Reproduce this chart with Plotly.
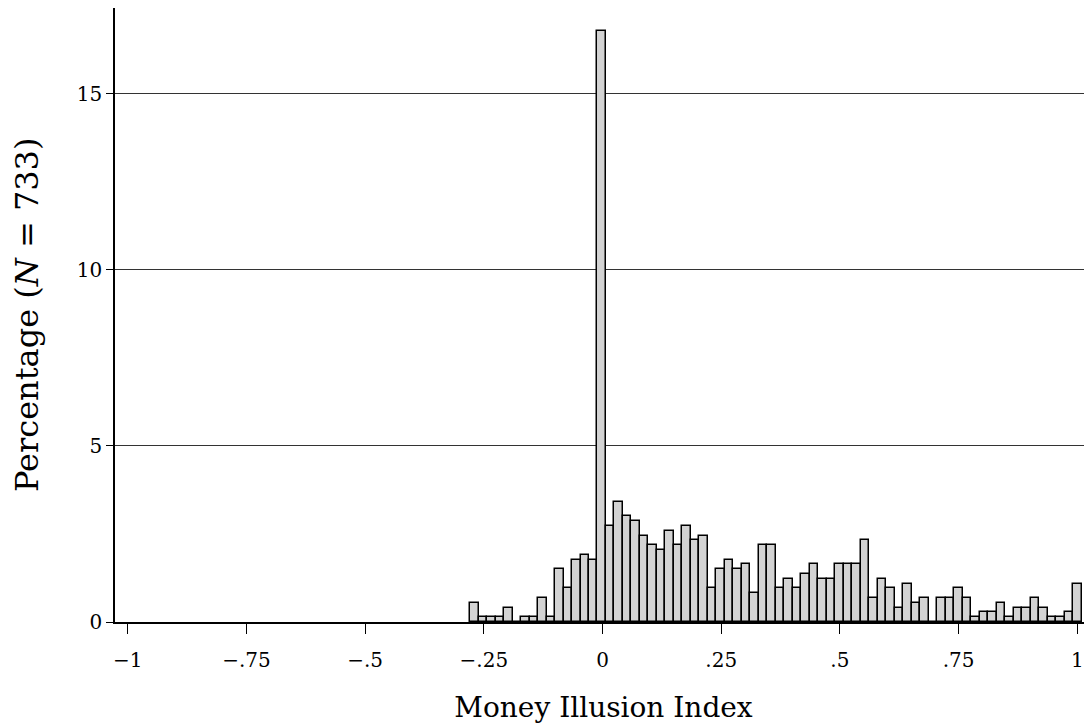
import plotly.graph_objects as go

# Histogram data: counts per bin (N = 733), 72 equal-width bins
N = 733
bin_start = -0.279
bin_width = 0.01789
counts = [4, 1, 1, 1, 3, 0, 1, 1, 5, 1, 11, 7,
          13, 14, 13, 123, 20, 25, 22, 21, 18, 16, 15, 19,
          16, 20, 17, 18, 7, 11, 13, 11, 12, 6, 16, 16,
          7, 9, 7, 10, 12, 9, 9, 12, 12, 12, 17,
          5, 9, 7, 3, 8, 4, 5, 0, 5, 5, 7, 5,
          1, 2, 2, 4, 1, 3, 3, 5, 3, 1, 1, 2, 8]
percent = [c / N * 100 for c in counts]
centers = [bin_start + (i + 0.5) * bin_width for i in range(len(counts))]

x_tickvals = [-1, -0.75, -0.5, -0.25, 0, 0.25, 0.5, 0.75, 1]
x_ticktext = ["\u22121", "\u2212.75", "\u2212.5", "\u2212.25", "0", ".25", ".5", ".75", "1"]
y_tickvals = [0, 5, 10, 15]
y_ticktext = ["0", "5", "10", "15"]

FONT = "DejaVu Serif"

fig = go.Figure()
fig.add_trace(go.Bar(
    x=centers, y=percent, width=bin_width,
    marker=dict(color="#d3d3d3", line=dict(color="black", width=1.5)),
    hoverinfo="x+y",
))

# page body has an 8px margin, so the figure is sized to the visible area
fig.update_layout(
    width=1084, height=718,
    margin=dict(l=107, r=0, t=0, b=104),
    paper_bgcolor="white", plot_bgcolor="white",
    font=dict(family=FONT, size=20, color="black"),
    showlegend=False,
    bargap=0,
)
fig.update_xaxes(
    range=[-1.027, 1.031],
    tickvals=x_tickvals, ticktext=x_ticktext,
    ticks="outside", ticklen=10, tickwidth=1.2, tickcolor="black",
    ticklabelstandoff=9,
    showline=True, linecolor="black", linewidth=1.5,
    showgrid=False, zeroline=False, automargin=False,
    title=dict(text="Money Illusion Index", standoff=27, font=dict(size=28)),
)
fig.update_yaxes(
    range=[0, 17.44],
    tickvals=y_tickvals, ticktext=y_ticktext,
    ticks="outside", ticklen=7, tickwidth=1.2, tickcolor="black",
    ticklabelstandoff=0,
    showline=True, linecolor="black", linewidth=1.5,
    showgrid=True, gridcolor="#333333", gridwidth=1,
    zeroline=False, automargin=False,
)
# y-axis title as a rotated annotation
fig.add_annotation(
    text="Percentage (<i>N</i> = 733)", textangle=-90,
    xref="paper", yref="paper", x=-0.0900, y=0.5,
    xanchor="center", yanchor="middle", showarrow=False,
    font=dict(size=32, family=FONT, color="black"),
)

fig.write_html("out.html")
